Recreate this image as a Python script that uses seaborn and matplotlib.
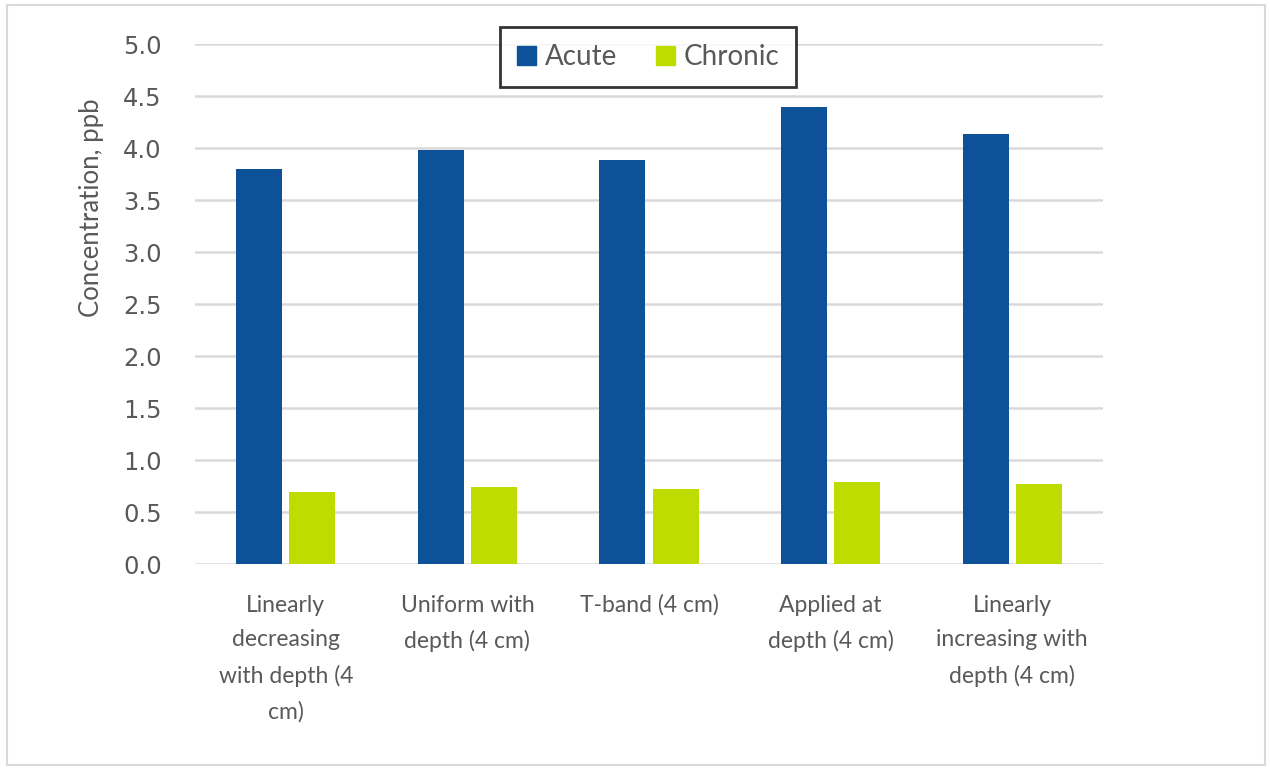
import matplotlib
matplotlib.use("Agg")
import matplotlib.pyplot as plt
import matplotlib.patches as mpatches
import seaborn as sns
import pandas as pd

categories = [
    "Linearly\ndecreasing\nwith depth (4\ncm)",
    "Uniform with\ndepth (4 cm)",
    "T-band (4 cm)",
    "Applied at\ndepth (4 cm)",
    "Linearly\nincreasing with\ndepth (4 cm)",
]
acute = [3.80, 3.98, 3.88, 4.39, 4.13]
chronic = [0.69, 0.74, 0.72, 0.79, 0.77]
series_names = ["Acute", "Chronic"]
y_ticks = [0.0, 0.5, 1.0, 1.5, 2.0, 2.5, 3.0, 3.5, 4.0, 4.5, 5.0]

df = pd.DataFrame({
    "scenario": categories * 2,
    "series": [series_names[0]] * len(categories) + [series_names[1]] * len(categories),
    "value": acute + chronic,
})

sns.set_theme(style="white")
plt.rcParams["font.family"] = ["Lato", "DejaVu Sans"]

text_grey = "#595959"
palette = {"Acute": "#0D5299", "Chronic": "#BEDC00"}

fig = plt.figure(figsize=(12.7, 7.7), dpi=100)
ax = fig.add_axes([195 / 1270, 1 - 564 / 770, (1103 - 195) / 1270, (564 - 44) / 770])

sns.barplot(data=df, x="scenario", y="value", hue="series", palette=palette,
            width=0.585, gap=0.135, ax=ax, saturation=1, legend=False,
            edgecolor="none", linewidth=0, zorder=3)

ax.set_ylim(0, 5.0)
ax.set_xlim(-0.5, len(categories) - 0.5)
ax.set_yticks(y_ticks)
ax.set_yticklabels([f"{v:.1f}" for v in y_ticks], fontsize=17.5,
                   color=text_grey, family=["DejaVu Sans"])
ax.tick_params(axis="y", length=0, pad=24)
ax.tick_params(axis="x", length=0, pad=22)
for lbl in ax.get_xticklabels():
    lbl.set_fontsize(16.5)
    lbl.set_color(text_grey)
    lbl.set_linespacing(1.8)
    lbl.set_verticalalignment("top")

ax.yaxis.grid(True, color="#D9D9D9", linewidth=1.8, zorder=0)
ax.set_axisbelow(True)
for s in ax.spines.values():
    s.set_visible(False)

ax.set_xlabel("")
ax.set_ylabel("Concentration, ppb", fontsize=18.5, color=text_grey)
ax.yaxis.set_label_coords(-0.100, 0.685)

handles = [mpatches.Patch(color=palette[n], label=n) for n in series_names]
leg = fig.legend(handles=handles, loc="center", bbox_to_anchor=(648 / 1270, 1 - 57 / 770),
                 ncol=2, frameon=True, fontsize=20, handlelength=0.7, handleheight=0.7,
                 handletextpad=0.3, columnspacing=1.4, borderpad=0.6, borderaxespad=0,
                 fancybox=False, labelcolor=text_grey)
leg.get_frame().set_edgecolor("black")
leg.get_frame().set_linewidth(2)

fig.patches.append(mpatches.Rectangle((7 / 1270, 5 / 770), 1258 / 1270, 760 / 770,
                                      transform=fig.transFigure, fill=False,
                                      edgecolor="#D9D9D9", linewidth=1.5))

fig.savefig("out.png", dpi=100)
